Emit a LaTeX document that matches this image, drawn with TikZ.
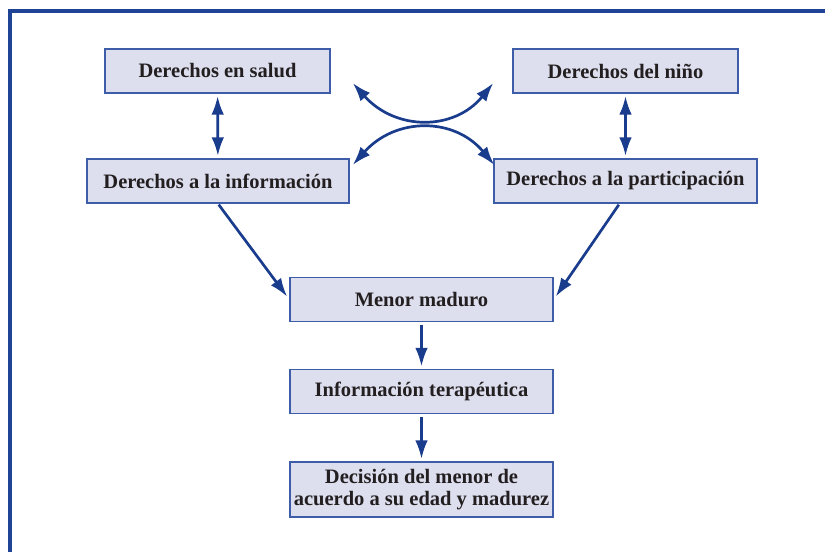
\documentclass[tikz,border=0pt]{standalone}
\usepackage{fontspec}
\setmainfont{Liberation Serif}
\usepackage{xcolor}
\usepackage{tikz}
\usetikzlibrary{shapes,arrows,arrows.meta}

\definecolor{frameblue}{HTML}{1F4496}
\definecolor{arrowblue}{HTML}{1A3C8C}
\definecolor{boxfill}{HTML}{DDDFEE}
\definecolor{boxline}{HTML}{3D5DA8}
\definecolor{textgray}{HTML}{231F20}

\begin{document}
\begin{tikzpicture}[x=0.03cm, y=-0.03cm, >={Latex[length=5.6mm, width=3.8mm]}]
		% Define the styles for the boxes and the arrows
		\tikzstyle{rightsbox}=[rectangle, draw=boxline, fill=boxfill, line width=1.2pt, minimum height=1.32cm, text centered, align=center, text=textgray, inner sep=0pt, font=\fontsize{17.5}{18.5}\selectfont\bfseries]
		\tikzstyle{link}=[arrowblue, line width=2.3pt]

		% Frame
		\useasboundingbox (0,0) rectangle (825,552);
		\draw[frameblue, line width=2.8pt] (10,552) -- (10,11) -- (825,11);

		% Define nodes
		\node (salud) [rightsbox, minimum width=6.75cm] at (217.5,71) {Derechos en salud};
		\node (nino) [rightsbox, minimum width=6.75cm] at (625.5,71) {Derechos del niño};
		\node (info) [rightsbox, minimum width=7.86cm] at (218,181) {Derechos a la información};
		\node (part) [rightsbox, minimum width=7.89cm] at (625.5,181) {Derechos a la participación};
		\node (menor) [rightsbox, minimum width=7.89cm] at (421.5,299.5) {Menor maduro};
		\node (terap) [rightsbox, minimum width=7.89cm] at (421.5,391.5) {Información terapéutica};
		\node (decision) [rightsbox, minimum width=7.89cm, minimum height=1.65cm] at (421.5,489.5) {Decisión del menor de\\acuerdo a su edad y madurez};

		% Define edges
		\draw[link, <->, shorten <=2pt, shorten >=2pt] (salud) -- (info);
		\draw[link, <->, shorten <=2pt, shorten >=2pt] (nino) -- (part);

		\draw[link, <->] ([shift={(22,12)}]salud.east) .. controls +(43,48) and +(-39,48) .. ([shift={(-19,12)}]nino.west);
		\draw[link, <->] ([shift={(3,-16)}]info.east) .. controls +(43,-48) and +(-40,-48) .. ([shift={(1,-16)}]part.west);

		\draw[link, ->, shorten <=1pt, shorten >=3pt] (info.south) -- (menor.west);
		\draw[link, ->, shorten <=1pt, shorten >=3pt] ([shift={(-6,0)}]part.south) -- (menor.east);

		\draw[link, ->, shorten <=2pt, shorten >=2pt] (menor) -- (terap);
		\draw[link, ->, shorten <=2pt, shorten >=2pt] (terap) -- (decision);
	\end{tikzpicture}
\end{document}
